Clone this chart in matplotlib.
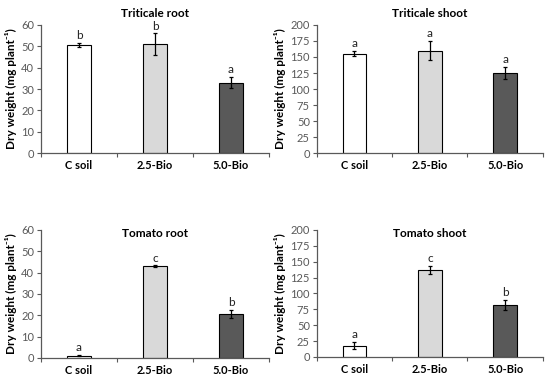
import matplotlib
matplotlib.use("Agg")
import matplotlib.pyplot as plt

plt.rcParams['font.family'] = ['Lato', 'DejaVu Sans']

# categories and colours
treatments = ["C soil", "2.5-Bio", "5.0-Bio"]
bar_colors = ["#ffffff", "#d9d9d9", "#595959"]

# values
titles = ["Triticale root", "Triticale shoot", "Tomato root", "Tomato shoot"]
means = [
    [50.5, 51.0, 33.0],
    [155.0, 160.0, 125.0],
    [1.0, 43.0, 20.5],
    [18.0, 137.0, 82.0],
]
errors = [
    [1.0, 5.0, 2.5],
    [4.0, 15.0, 10.0],
    [0.3, 0.3, 2.0],
    [6.0, 7.0, 8.0],
]
letters = [
    ["b", "b", "a"],
    ["a", "a", "a"],
    ["a", "c", "b"],
    ["a", "c", "b"],
]
y_max = [60, 200, 60, 200]
y_step = [10, 25, 10, 25]

fig = plt.figure(figsize=(5.5, 3.78), dpi=100)
positions = [
    [0.0745, 0.595, 0.4145, 0.339],
    [0.576, 0.595, 0.411, 0.339],
    [0.0745, 0.053, 0.4145, 0.339],
    [0.576, 0.0556, 0.411, 0.336],
]

gray = "#595959"
for i in range(4):
    ax = fig.add_axes(positions[i])
    x = range(len(treatments))
    ax.bar(x, means[i], width=0.31, color=bar_colors, edgecolor="black", linewidth=0.8,
           yerr=errors[i], error_kw=dict(ecolor="black", elinewidth=0.9, capsize=1.5, capthick=0.9))
    off = y_max[i] * 0.015
    for j in x:
        ax.text(j, means[i][j] + errors[i][j] + off, letters[i][j], ha="center", va="bottom",
                fontsize=8.5, color="#222222")
    ax.set_xlim(-0.5, 2.5)
    ax.set_ylim(0, y_max[i])
    ax.set_yticks(range(0, y_max[i] + 1, y_step[i]))
    ax.set_xticks([-0.5, 0.5, 1.5, 2.5])
    ax.set_xticklabels([])
    ax.set_xticks(list(x), minor=True)
    ax.set_xticklabels(treatments, minor=True, fontweight="bold", fontsize=8)
    ax.tick_params(axis="x", which="minor", length=0, pad=5)
    ax.tick_params(axis="x", which="major", length=3, direction="out", color=gray)
    ax.tick_params(axis="y", length=3, direction="out", color=gray, labelcolor=gray, labelsize=8, pad=2)
    for s in ["top", "right"]:
        ax.spines[s].set_visible(False)
    for s in ["left", "bottom"]:
        ax.spines[s].set_color(gray)
        ax.spines[s].set_linewidth(0.9)
    ax.set_ylabel("Dry weight (mg plant⁻¹)", fontweight="bold", fontsize=8.5, labelpad=3)
    if i < 2:
        ax.set_title(titles[i], fontweight="bold", fontsize=8.5, pad=6)
    else:
        ax.text(0.5, 0.975, titles[i], transform=ax.transAxes, ha="center", va="center",
                fontweight="bold", fontsize=8.5)

fig.savefig("out.png", dpi=100)
